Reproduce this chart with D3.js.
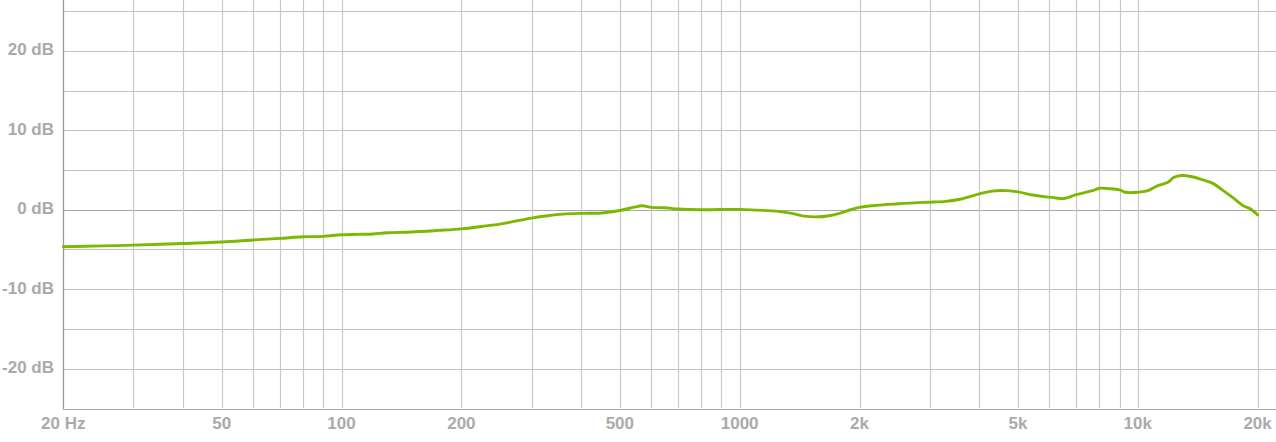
<!DOCTYPE html>
<html><head><meta charset="utf-8">
<script src="https://cdn.jsdelivr.net/npm/d3@7"></script>
<style>html,body{margin:0;padding:0;background:#fff;overflow:hidden}svg{display:block}</style>
</head><body>
<svg id="chart" width="1276" height="442"></svg>
<script>
const freqs = [20,25,30,40,50,60,70,80,90,100,110,120,130,150,175,200,225,250,275,300,330,360,400,450,500,540,570,600,650,700,800,1000,1100,1250,1380,1450,1550,1680,1800,1900,2000,2200,2500,2800,3000,3300,3600,4000,4300,4700,5000,5450,5800,6100,6500,6700,7000,7700,8000,8500,9000,9300,10000,10600,11200,11900,12300,12900,13700,14500,15400,16300,17300,18400,19200,20000];
const levels = [-4.65,-4.55,-4.45,-4.25,-4.05,-3.8,-3.6,-3.4,-3.35,-3.15,-3.1,-3.05,-2.9,-2.8,-2.6,-2.4,-2.1,-1.8,-1.4,-1.05,-0.75,-0.55,-0.45,-0.4,-0.1,0.3,0.5,0.3,0.25,0.1,0.0,0.05,-0.05,-0.2,-0.55,-0.8,-0.9,-0.75,-0.4,0.0,0.3,0.55,0.75,0.9,0.95,1.05,1.35,2.0,2.35,2.4,2.25,1.85,1.65,1.55,1.4,1.55,1.9,2.4,2.7,2.65,2.5,2.2,2.2,2.4,3.0,3.45,4.05,4.3,4.15,3.8,3.35,2.5,1.55,0.5,0.1,-0.65];
const gridFreqs = [20,30,40,50,60,70,80,90,100,200,300,400,500,600,700,800,900,1000,2000,3000,4000,5000,6000,7000,8000,9000,10000,20000];
const xTickValues = [20,50,100,200,500,1000,2000,5000,10000,20000];
const xTickLabels = ["20 Hz","50","100","200","500","1000","2k","5k","10k","20k"];
const gridDb = [-25,-20,-15,-10,-5,0,5,10,15,20,25];
const yTickValues = [-20,-10,0,10,20];
const yTickLabels = ["-20 dB","-10 dB","0 dB","10 dB","20 dB"];

const svg = d3.select("#chart");
const x = d3.scaleLog().domain([20,20000]).range([63.3,1257.6]);
const y = d3.scaleLinear().domain([-25,30]).range([408.5,-28.75]);

const g = svg.append("g");
g.selectAll("line.h").data(gridDb).enter().append("line")
  .attr("x1",63).attr("x2",1276)
  .attr("y1",d=>Math.round(y(d))+0.5).attr("y2",d=>Math.round(y(d))+0.5)
  .attr("stroke",d=>d===0?"#a8a8a8":(d===-25?"#aaa":"#c2c2c2")).attr("stroke-width",1.2);
g.selectAll("line.v").data(gridFreqs).enter().append("line")
  .attr("x1",d=>Math.round(x(d))+0.5).attr("x2",d=>Math.round(x(d))+0.5)
  .attr("y1",0).attr("y2",408)
  .attr("stroke","#c8c8c8").attr("stroke-width",1.2);
g.append("line").attr("x1",63.5).attr("x2",63.5).attr("y1",0).attr("y2",409)
  .attr("stroke","#999").attr("stroke-width",1.2);

g.selectAll("text.y").data(yTickValues).enter().append("text")
  .attr("x",54).attr("y",d=>y(d)+4.5)
  .attr("text-anchor","end")
  .attr("font-family","Liberation Sans, Arial, sans-serif").attr("font-weight","bold")
  .attr("font-size",17).attr("fill","#aaa")
  .text((d,i)=>yTickLabels[i]);
g.selectAll("text.x").data(xTickValues).enter().append("text")
  .attr("x",d=>x(d)).attr("y",429)
  .attr("text-anchor","middle")
  .attr("font-family","Liberation Sans, Arial, sans-serif").attr("font-weight","bold")
  .attr("font-size",17).attr("fill","#aaa")
  .text((d,i)=>xTickLabels[i]);

const line = d3.line().x((d,i)=>x(freqs[i])).y(d=>y(d)).curve(d3.curveCatmullRom.alpha(0.5));
g.append("path").datum(levels).attr("d",line)
  .attr("fill","none").attr("stroke","#7db800").attr("stroke-width",2.9)
  .attr("stroke-linejoin","round").attr("stroke-linecap","round");
</script>
</body></html>
